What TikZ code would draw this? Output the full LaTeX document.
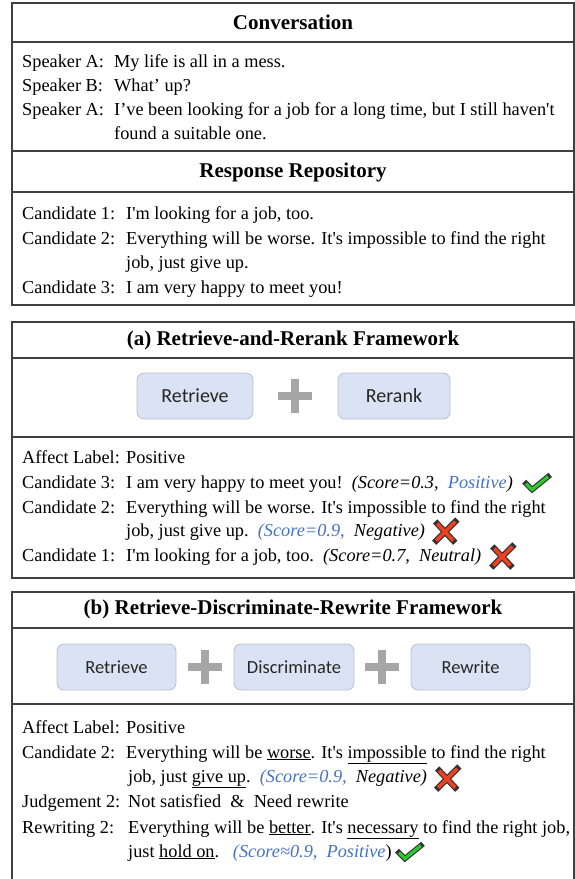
\documentclass[tikz,border=0pt]{standalone}
\usepackage{fontspec}
\setmainfont{Liberation Serif}[Ligatures=TeXOff]
\newfontfamily\modfont{Carlito}
\usetikzlibrary{positioning}

\definecolor{modfill}{HTML}{DAE3F3}
\definecolor{modline}{HTML}{B8C0CC}
\definecolor{plusgray}{HTML}{A6A6A6}
\definecolor{scoreblue}{HTML}{4472C4}
\definecolor{okgreen}{HTML}{2DC82D}
\definecolor{badred}{HTML}{F0401E}

\newcommand{\bluescore}[1]{\textcolor{scoreblue}{#1}}

\tikzset{
	frame/.style={draw=black!75, line width=1.2pt},
	headtext/.style={font=\fontsize{21}{24}\selectfont\bfseries},
	rowlabel/.style={anchor=base west, inner sep=0pt, font=\fontsize{18.3}{24}\selectfont},
	rowtext/.style={anchor=base west, inner sep=0pt, font=\fontsize{18.3}{24}\selectfont},
	module/.style={draw=modline, fill=modfill, line width=0.8pt, rounded corners=7pt,
		minimum height=46pt, font=\modfont\fontsize{18.5}{20}\selectfont, text=black!85},
	plussign/.pic={
		\fill[plusgray] (-17,-4) rectangle (17,4);
		\fill[plusgray] (-4,-17) rectangle (4,17);
	},
	okmark/.pic={
		\draw[black!80, line width=5.5pt, line cap=rect] (-11,0) -- (-5,6) -- (11,-7);
		\draw[okgreen, line width=3.2pt] (-11,0) -- (-5,6) -- (11,-7);
	},
	badmark/.pic={
		\draw[black!80, line width=6pt, line cap=rect] (-9,9) -- (10,-10) (-8,-8) -- (8,9);
		\draw[badred, line width=3.6pt] (-9,9) -- (10,-10) (-8,-8) -- (8,9);
	}
}

\begin{document}
\begin{tikzpicture}[x=1pt, y=-1pt]

		\useasboundingbox (0,0) rectangle (575,879);

		% conversation and response repository
		\draw[frame] (12,3) rectangle (574,305);
		\draw[frame] (12,42) -- (574,42);
		\draw[frame] (12,151) -- (574,151);
		\draw[frame] (12,192) -- (574,192);

		\node[headtext] (convhead) at (293,22) {Conversation};
		\node[rowlabel] (spk1) at (22,67) {Speaker A:};
		\node[rowtext] (utt1) at (114,67) {My life is all in a mess.};
		\node[rowlabel] (spk2) at (22,91) {Speaker B:};
		\node[rowtext] (utt2) at (114,91) {What’ up?};
		\node[rowlabel] (spk3) at (22,115) {Speaker A:};
		\node[rowtext] (utt3) at (114,115) {I’ve been looking for a job for a long time, but I still haven't};
		\node[rowtext] (utt3b) at (114,139) {found a suitable one.};

		\node[headtext] (repohead) at (293,172) {Response Repository};
		\node[rowlabel] (cand1) at (22,219) {Candidate 1:};
		\node[rowtext] (resp1) at (126,219) {I'm looking for a job, too.};
		\node[rowlabel] (cand2) at (22,244) {Candidate 2:};
		\node[rowtext] (resp2) at (126,244) {Everything will be worse. It's impossible to find the right};
		\node[rowtext] (resp2b) at (126,268) {job, just give up.};
		\node[rowlabel] (cand3) at (22,293) {Candidate 3:};
		\node[rowtext] (resp3) at (126,293) {I am very happy to meet you!};

		% (a) retrieve and rerank
		\draw[frame] (12,322) rectangle (574,578);
		\draw[frame] (12,358) -- (574,358);
		\draw[frame] (12,437) -- (574,437);

		\node[headtext] (ahead) at (293,340) {(a) Retrieve-and-Rerank Framework};
		\node[module, minimum width=116pt, font=\modfont\fontsize{20}{22}\selectfont] (aret) at (195,396) {Retrieve};
		\pic at (295,396) {plussign};
		\node[module, minimum width=112pt, font=\modfont\fontsize{20}{22}\selectfont] (arer) at (394,396) {Rerank};

		\node[rowlabel] (aaff) at (22,463) {Affect Label:};
		\node[rowtext] (aafft) at (126,463) {Positive};
		\node[rowlabel] (ac3) at (22,488) {Candidate 3:};
		\node[rowtext] (ac3t) at (126,488) {I am very happy to meet you!\ \ \textit{(Score=0.3,\ \ \bluescore{Positive})}};
		\node[rowlabel] (ac2) at (22,513) {Candidate 2:};
		\node[rowtext] (ac2t) at (126,513) {Everything will be worse. It's impossible to find the right};
		\node[rowtext] (ac2b) at (126,536) {job, just give up.\ \ \textit{\bluescore{(Score=0.9,}\ \ Negative)}};
		\node[rowlabel] (ac1) at (22,561) {Candidate 1:};
		\node[rowtext] (ac1t) at (126,561) {I'm looking for a job, too.\ \ \textit{(Score=0.7,\ \ Neutral)}};

		\coordinate[right=24pt of ac3t] (ac3mark);
		\coordinate[right=20pt of ac2b] (ac2mark);
		\coordinate[right=21pt of ac1t] (ac1mark);
		\pic at (ac3mark) {okmark};
		\pic at (ac2mark) {badmark};
		\pic at (ac1mark) {badmark};

		% (b) retrieve, discriminate and rewrite
		\draw[frame] (12,895) -- (12,592) -- (574,592) -- (574,895);
		\draw[frame] (12,628) -- (574,628);
		\draw[frame] (12,704) -- (574,704);

		\node[headtext] (bhead) at (293,609) {(b) Retrieve-Discriminate-Rewrite Framework};
		\node[module, minimum width=119pt] (bret) at (116.5,667) {Retrieve};
		\pic at (205,667) {plussign};
		\node[module, minimum width=120pt] (bdis) at (294,667) {Discriminate};
		\pic at (382,667) {plussign};
		\node[module, minimum width=119pt] (brew) at (470.5,667) {Rewrite};

		\node[rowlabel] (baff) at (22,733) {Affect Label:};
		\node[rowtext] (bafft) at (126,733) {Positive};
		\node[rowlabel] (bc2) at (22,758) {Candidate 2:};
		\node[rowtext] (bc2t) at (126,758) {Everything will be \underline{worse}. It's \underline{impossible} to find the right};
		\node[rowtext] (bc2b) at (128,782) {job, just \underline{give up}.\ \ \textit{\bluescore{(Score=0.9,}\ \ Negative)}};
		\node[rowlabel] (bjud) at (22,807) {Judgement 2:};
		\node[rowtext] (bjudt) at (128,807) {Not satisfied\ \ \&\ \ Need rewrite};
		\node[rowlabel] (brw) at (22,833) {Rewriting 2:};
		\node[rowtext] (brwt) at (128,833) {Everything will be \underline{better}. It's \underline{necessary} to find the right job,};
		\node[rowtext] (brwb) at (128,857) {just \underline{hold on}.\ \ \ \textit{\bluescore{(Score≈0.9,\ \ Positive}})};

		\coordinate[right=20pt of bc2b] (bc2mark);
		\coordinate[right=18pt of brwb] (brwmark);
		\pic at (bc2mark) {badmark};
		\pic at (brwmark) {okmark};

	\end{tikzpicture}
\end{document}
